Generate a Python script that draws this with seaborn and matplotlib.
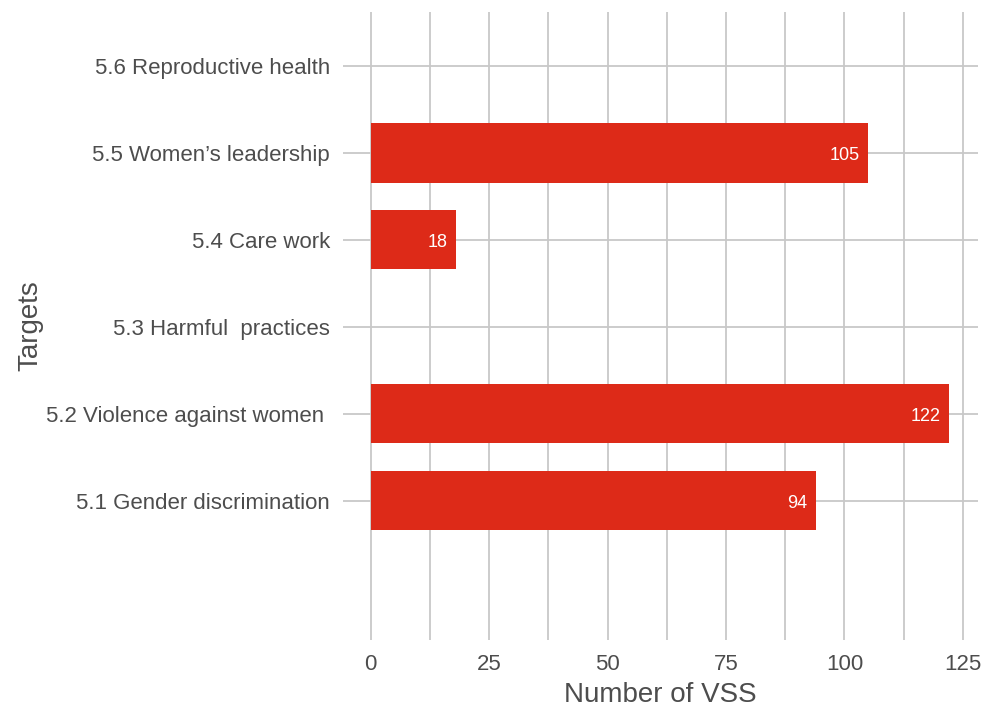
import matplotlib
matplotlib.use("Agg")
import matplotlib.pyplot as plt
import matplotlib.ticker as mticker
import pandas as pd
import seaborn as sns

# SDG 5 targets, top to bottom as drawn
targets = ["5.6 Reproductive health", "5.5 Women\u2019s leadership", "5.4 Care work",
           "5.3 Harmful  practices", "5.2 Violence against women ", "5.1 Gender discrimination"]
n_vss = [0, 105, 18, 0, 122, 94]

df = pd.DataFrame({"target": targets, "n_vss": n_vss})

sns.set_style("whitegrid")
plt.rcParams["font.family"] = ["Liberation Sans", "DejaVu Sans"]
text_col = "#4D4D4D"
grid_col = "#C8C8C8"

fig = plt.figure(figsize=(9.82, 7.11), dpi=100)
ax = fig.add_axes([0.349, 0.0998, 0.647, 0.8833])

sns.barplot(data=df, x="n_vss", y="target", orient="h", order=targets,
            color="#DD2A18", saturation=1, width=0.68, linewidth=0, ax=ax)

# value labels inside the bar end
for i, v in enumerate(n_vss):
    if v > 0:
        ax.text(v - 1.8, i + 0.03, str(v), color="white", fontsize=13,
                ha="right", va="center")

ax.set_xlim(-5.9, 128.2)
ax.set_ylim(6.6, -0.62)
ax.xaxis.set_major_locator(mticker.MultipleLocator(25))
ax.xaxis.set_minor_locator(mticker.MultipleLocator(12.5))
ax.grid(True, which="both", axis="x", color=grid_col, linewidth=1.3)
ax.grid(True, which="major", axis="y", color=grid_col, linewidth=1.3)
ax.set_axisbelow(True)
for s in ax.spines.values():
    s.set_visible(False)

ax.tick_params(axis="both", which="both", length=0, labelsize=16, labelcolor=text_col)
ax.tick_params(axis="y", pad=9)
ax.tick_params(axis="x", pad=10)

ax.set_xlabel("Number of VSS", fontsize=20, color=text_col, labelpad=5)
ax.set_ylabel("Targets", fontsize=20, color=text_col, labelpad=2)

fig.savefig("out.png", dpi=100)
